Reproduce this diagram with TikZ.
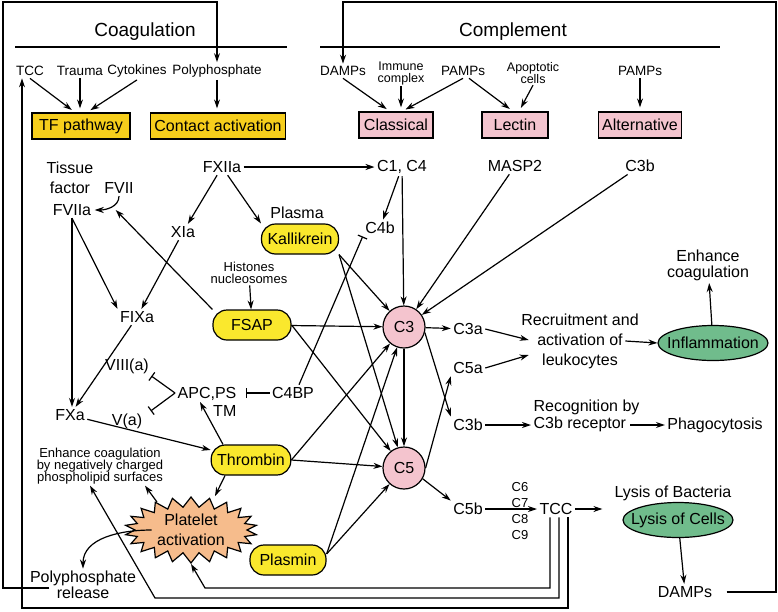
\documentclass[tikz,border=0pt]{standalone}
\usepackage{fontspec}
\setmainfont{Liberation Sans}
\usetikzlibrary{arrows.meta, calc, positioning, shapes.geometric, shapes.symbols}
\definecolor{pathyellow}{RGB}{246,206,28}
\definecolor{pillyellow}{RGB}{250,232,45}
\definecolor{comppink}{RGB}{244,196,206}
\definecolor{outgreen}{RGB}{112,188,140}
\definecolor{burstorange}{RGB}{246,188,140}

\begin{document}
\begin{tikzpicture}[x=1pt, y=-1pt, >={Stealth[length=9pt, width=6pt]}, line width=1.2pt,
    every node/.style={font=\fontsize{16}{19}\selectfont, inner sep=2pt},
    head/.style={font=\fontsize{19}{22}\selectfont},
    lab/.style={font=\fontsize{13.5}{15}\selectfont},
    tinylab/.style={font={\fontsize{12.5}{12}\selectfont\lineskiplimit=-100pt}, align=center, inner sep=1pt},
    cramped/.style={font={\fontsize{13}{12}\selectfont\lineskiplimit=-100pt}, align=center, inner sep=1pt},
    pathbox/.style={draw, fill=pathyellow, minimum height=26pt, inner xsep=4pt},
    comppath/.style={draw, fill=comppink, minimum height=26pt, inner xsep=4pt},
    pill/.style={draw, fill=pillyellow, rounded corners=14pt, minimum height=30pt, inner xsep=6pt},
    cfac/.style={draw, circle, fill=comppink, minimum size=42pt, inner sep=0pt},
    outcome/.style={draw, ellipse, fill=outgreen, inner xsep=-8pt, inner ysep=1pt, minimum width=110pt, minimum height=35pt},
    burst/.style={draw, starburst, fill=burstorange, starburst points=22, starburst point height=10pt, random starburst=0, minimum width=132pt, minimum height=66pt, inner sep=0pt, align=center, font=\fontsize{16}{20}\selectfont},
    trig/.style={->, shorten >=4pt},
    inhib/.style={-{Bar[width=10pt]}}]
    \useasboundingbox (0,0) rectangle (778,611);

    % Section headers
    \node[head] (coaghead) at (145,32) {Coagulation};
    \node[head] (complhead) at (513,32) {Complement};
    \draw (15,47) -- (287,47);
    \draw (320,47) -- (720,47);

    % Coagulation triggers
    \node[lab] (tcctop) at (30,71) {TCC};
    \node[lab] (trauma) at (80,71) {Trauma};
    \node[lab] (cytok) at (137,71) {Cytokines};
    \node[lab] (polyph) at (217,71) {Polyphosphate};
    \node[pathbox, minimum width=98pt] (tfpath) at (81,126) {TF pathway};
    \node[pathbox] (contact) at (218,126) {Contact activation};

    % Complement triggers
    \node[lab] (dampstop) at (343,71) {DAMPs};
    \node[tinylab] (immune) at (401,73) {Immune\\complex};
    \node[lab] (pampscl) at (463,71) {PAMPs};
    \node[tinylab] (apopt) at (533,73) {Apoptotic\\cells};
    \node[lab] (pampsalt) at (640,71) {PAMPs};
    \node[comppath, minimum width=74pt] (classical) at (396,125) {Classical};
    \node[comppath, minimum width=66pt] (lectin) at (515,125) {Lectin};
    \node[comppath] (altern) at (640,125) {Alternative};

    % Coagulation cascade
    \node[align=center, font=\fontsize{16}{20}\selectfont] (tissue) at (70,178) {Tissue\\factor};
    \node (fvii) at (119,188) {FVII};
    \node (fviia) at (72,210) {FVIIa};
    \node (fxiia) at (222,167) {FXIIa};
    \node (xia) at (183,232) {XIa};
    \node (plasma) at (297,213) {Plasma};
    \node[pill] (kall) at (300,239) {Kallikrein};
    \node[cramped] (histones) at (249,273) {Histones\\nucleosomes};
    \node[pill, minimum width=78pt] (fsap) at (252,325) {FSAP};
    \node (fixa) at (137,317) {FIXa};
    \node (viii) at (127,366) {VIII(a)};
    \node (va) at (127,421) {V(a)};
    \node (fxa) at (70,415) {FXa};
    \node[align=right, font=\fontsize{16}{18}\selectfont] (apc) at (207,402) {APC,PS\\TM};
    \node (c4bp) at (293,393) {C4BP};
    \node[pill] (thrombin) at (251,460) {Thrombin};
    \node[cramped] (enhleft) at (100,466) {Enhance coagulation\\by negatively charged\\phospholipid surfaces};
    \node[burst] (platelet) at (191,530) {Platelet\\activation};
    \node[pill, minimum width=76pt] (plasmin) at (288,560) {Plasmin};
    \node[align=center, font=\fontsize{16}{16}\selectfont] (polyrel) at (83,585) {Polyphosphate\\release};

    % Complement cascade
    \node (c1c4) at (402,167) {C1, C4};
    \node (masp2) at (515,166) {MASP2};
    \node (c3btop) at (640,166) {C3b};
    \node (c4b) at (380,228) {C4b};
    \node[cfac] (c3) at (404,327) {C3};
    \node[cfac] (c5) at (404,468) {C5};
    \node (c3a) at (468,329) {C3a};
    \node (c5a) at (468,368) {C5a};
    \node (c3blow) at (468,425) {C3b};
    \node (c5b) at (468,509) {C5b};
    \node[font=\fontsize{13}{16}\selectfont, align=center] (c6to9) at (520,511) {C6\\C7\\C8\\C9};
    \node (tcc) at (556,509) {TCC};

    % Outcomes
    \node[align=center, font=\fontsize{16}{20}\selectfont] (recruit) at (580,341) {Recruitment and\\activation of\\leukocytes};
    \node[outcome] (inflam) at (713,343) {Inflammation};
    \node[align=center, font=\fontsize{16}{16}\selectfont] (enhright) at (708,265) {Enhance\\coagulation};
    \node[align=left, anchor=west, font=\fontsize{16}{17}\selectfont] (recog) at (531,416) {Recognition by\\C3b receptor};
    \node (phago) at (715,425) {Phagocytosis};
    \node (lysbac) at (673,493) {Lysis of Bacteria};
    \node[outcome] (lyscell) at (678,520) {Lysis of Cells};
    \node (damps) at (685,592) {DAMPs};

    % Loop corners
    \coordinate (tl) at (3,2);
    \coordinate (tr) at (776,2);
    \coordinate (bplt) at (205,588);
    \coordinate (benh) at (155,598);
    \coordinate (btcc) at (22,608);

    % Trigger arrows
    \draw[trig] (tcctop.south) -- ([xshift=-6pt]tfpath.north);
    \draw[trig] (trauma.south) -- (trauma.south |- tfpath.north);
    \draw[trig] (cytok.south) -- ([xshift=6pt]tfpath.north);
    \draw[trig] (polyph.south) -- (polyph.south |- contact.north);
    \draw[trig] (dampstop.south) -- ([xshift=-6pt]classical.north);
    \draw[trig] (immune.south) -- (immune.south |- classical.north);
    \draw[trig] (pampscl.south) -- ([xshift=6pt]classical.north);
    \draw[trig] ([xshift=6pt]pampscl.south) -- ([xshift=-2pt]lectin.north);
    \draw[trig] (apopt.south) -- ([xshift=4pt]lectin.north);
    \draw[trig] (pampsalt) -- (altern);

    % Coagulation arrows
    \draw[->] (fvii.south) to[out=-90, in=0] ([xshift=1pt]fviia.east);
    \draw[->] (fxiia) -- (c1c4);
    \draw[->] (fxiia) -- (xia);
    \draw[->] (fxiia) -- (kall.north west);
    \draw[->] (fsap.north west) -- ([xshift=22pt]fviia.east);
    \draw[->] (xia) -- (fixa);
    \draw[->] (fviia.south) -- (fixa.north west);
    \draw[->] (fviia.south) -- (fviia.south |- fxa.north);
    \draw[->] (fixa) -- (fxa);
    \draw[->] (histones) -- (fsap);
    \draw[->] (fxa) -- (thrombin);
    \draw[->] ([xshift=-28pt]thrombin.north) -- ([xshift=-7pt]apc.center);
    \draw[->] ([xshift=-26pt]thrombin.south) -- ([xshift=24pt]platelet.north);
    \draw[->] ([xshift=-34pt,yshift=-6pt]platelet.north) -- ([xshift=45pt]enhleft.south);
    \draw[->] ([xshift=18pt]platelet.west) to[out=180, in=90] (polyrel.north);

    % Inhibitions
    \draw[inhib] ([yshift=9pt]apc.west) -- (viii.south east);
    \draw[inhib] ([yshift=9pt]apc.west) -- ([xshift=6pt]va.north east);
    \draw[inhib] (c4bp.west) -- ($(c4bp.west -| apc.east)+(7,0)$);
    \draw[inhib] ([xshift=6pt]c4bp.north) -- (c4b.south west);

    % Complement arrows
    \draw[->] (c1c4) -- (c4b);
    \draw[->] (c1c4) -- (c3);
    \draw[->] (masp2) -- (c3);
    \draw[->] (c3btop) -- (c3);
    \draw[->] (kall.south east) -- (c3);
    \draw[->] (kall.south east) -- (c5);
    \draw[->] (fsap) -- (c3);
    \draw[->] (fsap.east) -- (c5);
    \draw[->] (thrombin.east) -- (c3);
    \draw[->] (thrombin.east) -- (c5);
    \draw[->] ([yshift=6pt]plasmin.east) -- (c3);
    \draw[->] ([yshift=6pt]plasmin.east) -- (c5);
    \draw[->] (c3) -- (c5);
    \draw[->] (c3) -- (c3a);
    \draw[->] (c3.-15) -- (c3blow.north west);
    \draw[->] (c5.east) -- (c5a.south west);
    \draw[->] (c5.-30) -- (c5b.north west);
    \draw[->] (c3a.east) -- ($(recruit.west)+(10,-1)$);
    \draw[->] (c5a.east) -- ($(recruit.west)+(10,14)$);
    \draw[->] ($(recruit.east)+(-16,0)$) -- (inflam.west);
    \draw[->] (inflam) -- (enhright);
    \draw[->] (c3blow.east) -- (c3blow.east -| recog.west);
    \draw[->] ($(recog.east)+(-12,9)$) -- (phago.west);
    \draw[->] (c5b) -- (tcc);
    \draw[->, shorten >=20pt] (tcc) -- (tcc -| lyscell.west);
    \draw[->] (lyscell) -- (damps);

    % Feedback loops
    \draw[->] ([xshift=-6pt]tcc.south) |- (bplt) -- (platelet.south);
    \draw[->] ([xshift=3pt]tcc.south) |- (benh) -- ([xshift=-10pt]enhleft.south);
    \draw[->] ([xshift=12pt]tcc.south) |- (btcc) -- (btcc |- tcctop.south);
    \draw[->] ($(polyrel.west)+(22,3)$) -| (tl) -| (polyph.north);
    \draw[->] ([xshift=12pt]damps.east) -| (tr) -| (dampstop.north);
\end{tikzpicture}
\end{document}
